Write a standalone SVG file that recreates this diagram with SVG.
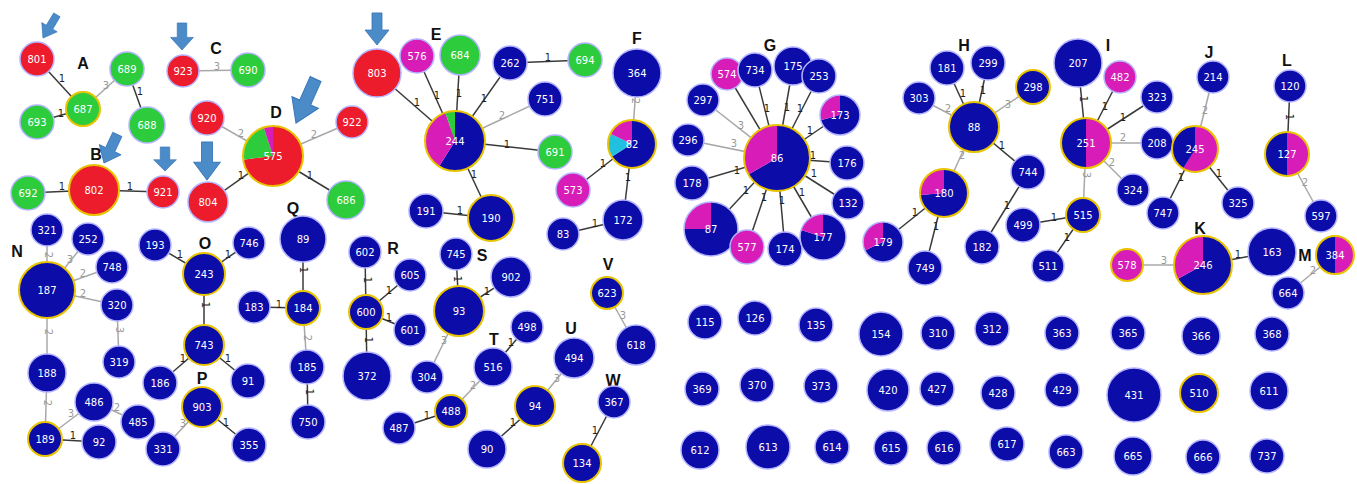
<svg xmlns="http://www.w3.org/2000/svg" xmlns:xlink="http://www.w3.org/1999/xlink" width="1357" height="484" viewBox="0 0 1357 484">
<style>
.b{fill:#0c0ca8}.r{fill:#ec1c2c}.g{fill:#2ccc3c}.m{fill:#d81cb8}.c{fill:#22c0e0}
.h{stroke:#b4b4ff;stroke-width:1.5}.y{stroke:#e8c300;stroke-width:2}
.o{fill:none}
.t{font-family:"DejaVu Sans",Verdana,sans-serif;font-size:10px;fill:#fff;text-anchor:middle;dominant-baseline:central}
.L{font-family:"Liberation Sans",Arial,sans-serif;font-weight:bold;font-size:16px;fill:#111;text-anchor:middle;dominant-baseline:central}
.e1{stroke:#3a3a3a;stroke-width:1.5}.e2{stroke:#a8a8a8;stroke-width:1.5}
.l1,.l2{font-family:"DejaVu Sans",Verdana,sans-serif;font-size:10px;text-anchor:middle;dominant-baseline:central}
.l1{fill:#222}.l2{fill:#999}
.ar{fill:#4a8bc8;stroke:#3a78b8;stroke-width:0.8}
</style>
<defs>
<path id="arr" d="M-5,-30 L5,-30 L5,-14 L12,-14 L0,0 L-12,-14 L-5,-14 Z"/>
</defs>
<rect width="1357" height="484" fill="#fff"/>
<g id="connectors">
<line class="e1" x1="37" y1="59" x2="83" y2="109"/>
<line class="e1" x1="37" y1="122" x2="83" y2="109"/>
<line class="e2" x1="83" y1="109" x2="127" y2="69"/>
<line class="e1" x1="127" y1="69" x2="147" y2="125"/>
<line class="e1" x1="28" y1="193" x2="94" y2="190"/>
<line class="e1" x1="94" y1="190" x2="163" y2="192"/>
<line class="e2" x1="183" y1="71" x2="248" y2="70"/>
<line class="e2" x1="207" y1="118" x2="273" y2="156"/>
<line class="e2" x1="273" y1="156" x2="352" y2="122"/>
<line class="e1" x1="273" y1="156" x2="346" y2="200"/>
<line class="e1" x1="208" y1="202" x2="273" y2="156"/>
<line class="e1" x1="377" y1="73" x2="455" y2="141"/>
<line class="e1" x1="417" y1="56" x2="455" y2="141"/>
<line class="e1" x1="460" y1="55" x2="455" y2="141"/>
<line class="e1" x1="510" y1="63" x2="455" y2="141"/>
<line class="e1" x1="510" y1="63" x2="585" y2="60"/>
<line class="e2" x1="545" y1="99" x2="455" y2="141"/>
<line class="e1" x1="455" y1="141" x2="555" y2="152"/>
<line class="e1" x1="455" y1="141" x2="491" y2="218"/>
<line class="e1" x1="426" y1="211" x2="491" y2="218"/>
<line class="e2" x1="632" y1="144" x2="637" y2="73"/>
<line class="e1" x1="573" y1="190" x2="632" y2="144"/>
<line class="e1" x1="623" y1="220" x2="632" y2="144"/>
<line class="e1" x1="563" y1="234" x2="623" y2="220"/>
<line class="e1" x1="727" y1="74" x2="777" y2="158"/>
<line class="e1" x1="755" y1="70" x2="777" y2="158"/>
<line class="e1" x1="793" y1="66" x2="777" y2="158"/>
<line class="e1" x1="819" y1="76" x2="777" y2="158"/>
<line class="e1" x1="840" y1="115" x2="777" y2="158"/>
<line class="e2" x1="703" y1="100" x2="777" y2="158"/>
<line class="e2" x1="688" y1="140" x2="777" y2="158"/>
<line class="e1" x1="847" y1="163" x2="777" y2="158"/>
<line class="e1" x1="692" y1="183" x2="777" y2="158"/>
<line class="e1" x1="848" y1="203" x2="777" y2="158"/>
<line class="e1" x1="711" y1="229" x2="777" y2="158"/>
<line class="e1" x1="747" y1="247" x2="777" y2="158"/>
<line class="e1" x1="785" y1="249" x2="777" y2="158"/>
<line class="e1" x1="823" y1="237" x2="777" y2="158"/>
<line class="e1" x1="947" y1="68" x2="974" y2="127"/>
<line class="e1" x1="988" y1="63" x2="974" y2="127"/>
<line class="e2" x1="919" y1="98" x2="974" y2="127"/>
<line class="e2" x1="1033" y1="87" x2="974" y2="127"/>
<line class="e1" x1="974" y1="127" x2="1028" y2="172"/>
<line class="e2" x1="974" y1="127" x2="944" y2="193"/>
<line class="e1" x1="944" y1="193" x2="883" y2="242"/>
<line class="e1" x1="925" y1="268" x2="944" y2="193"/>
<line class="e1" x1="1028" y1="172" x2="982" y2="247"/>
<line class="e1" x1="1078" y1="63" x2="1086" y2="143"/>
<line class="e1" x1="1120" y1="77" x2="1086" y2="143"/>
<line class="e1" x1="1157" y1="97" x2="1086" y2="143"/>
<line class="e2" x1="1086" y1="143" x2="1157" y2="143"/>
<line class="e2" x1="1086" y1="143" x2="1133" y2="190"/>
<line class="e2" x1="1086" y1="143" x2="1083" y2="215"/>
<line class="e1" x1="1023" y1="225" x2="1083" y2="215"/>
<line class="e1" x1="1083" y1="215" x2="1048" y2="266"/>
<line class="e2" x1="1213" y1="77" x2="1195" y2="149"/>
<line class="e1" x1="1195" y1="149" x2="1163" y2="213"/>
<line class="e1" x1="1195" y1="149" x2="1238" y2="203"/>
<line class="e2" x1="1127" y1="265" x2="1203" y2="265"/>
<line class="e1" x1="1203" y1="265" x2="1272" y2="252"/>
<line class="e1" x1="1290" y1="86" x2="1287" y2="154"/>
<line class="e2" x1="1287" y1="154" x2="1321" y2="216"/>
<line class="e2" x1="1335" y1="255" x2="1288" y2="293"/>
<line class="e2" x1="47" y1="230" x2="47" y2="290"/>
<line class="e2" x1="88" y1="239" x2="47" y2="290"/>
<line class="e2" x1="112" y1="267" x2="47" y2="290"/>
<line class="e2" x1="117" y1="305" x2="47" y2="290"/>
<line class="e2" x1="117" y1="305" x2="119" y2="362"/>
<line class="e2" x1="47" y1="373" x2="47" y2="290"/>
<line class="e2" x1="45" y1="439" x2="47" y2="373"/>
<line class="e2" x1="45" y1="439" x2="94" y2="402"/>
<line class="e2" x1="94" y1="402" x2="138" y2="422"/>
<line class="e1" x1="45" y1="439" x2="99" y2="442"/>
<line class="e1" x1="155" y1="245" x2="204" y2="274"/>
<line class="e1" x1="249" y1="243" x2="204" y2="274"/>
<line class="e1" x1="204" y1="274" x2="204" y2="345"/>
<line class="e1" x1="204" y1="345" x2="160" y2="383"/>
<line class="e1" x1="204" y1="345" x2="248" y2="381"/>
<line class="e2" x1="202" y1="407" x2="163" y2="449"/>
<line class="e1" x1="202" y1="407" x2="249" y2="445"/>
<line class="e1" x1="303" y1="239" x2="303" y2="308"/>
<line class="e1" x1="254" y1="307" x2="303" y2="308"/>
<line class="e2" x1="303" y1="308" x2="307" y2="367"/>
<line class="e1" x1="307" y1="367" x2="308" y2="422"/>
<line class="e1" x1="365" y1="252" x2="366" y2="312"/>
<line class="e1" x1="410" y1="275" x2="366" y2="312"/>
<line class="e1" x1="366" y1="312" x2="410" y2="330"/>
<line class="e1" x1="366" y1="312" x2="367" y2="376"/>
<line class="e1" x1="456" y1="254" x2="459" y2="311"/>
<line class="e1" x1="511" y1="277" x2="459" y2="311"/>
<line class="e2" x1="459" y1="311" x2="427" y2="377"/>
<line class="e1" x1="527" y1="327" x2="493" y2="367"/>
<line class="e2" x1="493" y1="367" x2="451" y2="411"/>
<line class="e1" x1="399" y1="428" x2="451" y2="411"/>
<line class="e2" x1="574" y1="358" x2="535" y2="406"/>
<line class="e1" x1="535" y1="406" x2="487" y2="449"/>
<line class="e2" x1="607" y1="293" x2="636" y2="345"/>
<line class="e1" x1="614" y1="402" x2="582" y2="463"/>
<text class="l1" x="62" y="78">1</text>
<text class="l1" x="61" y="113">1</text>
<text class="l2" x="106" y="85">3</text>
<text class="l1" x="140" y="91">1</text>
<text class="l1" x="62" y="186">1</text>
<text class="l1" x="130" y="186">1</text>
<text class="l2" x="217" y="66">3</text>
<text class="l2" x="241" y="133">2</text>
<text class="l2" x="314" y="134">2</text>
<text class="l1" x="310" y="175">1</text>
<text class="l1" x="241" y="175">1</text>
<text class="l1" x="417" y="102">1</text>
<text class="l1" x="437" y="95">1</text>
<text class="l1" x="459" y="93">1</text>
<text class="l1" x="484" y="98">1</text>
<text class="l1" x="548" y="57">1</text>
<text class="l2" x="502" y="115">2</text>
<text class="l1" x="507" y="144">1</text>
<text class="l1" x="474" y="174">1</text>
<text class="l1" x="460" y="210">1</text>
<text class="l2" x="635" y="101" transform="rotate(90 635 101)">2</text>
<text class="l1" x="603" y="163">1</text>
<text class="l1" x="628" y="177">1</text>
<text class="l1" x="595" y="223">1</text>
<text class="l1" x="756" y="138">1</text>
<text class="l1" x="767" y="108">1</text>
<text class="l1" x="787" y="107">1</text>
<text class="l1" x="800" y="108">1</text>
<text class="l1" x="810" y="130">1</text>
<text class="l2" x="741" y="125">3</text>
<text class="l2" x="734" y="143">3</text>
<text class="l1" x="813" y="155">1</text>
<text class="l1" x="737" y="170">1</text>
<text class="l1" x="814" y="173">1</text>
<text class="l1" x="746" y="190">1</text>
<text class="l1" x="764" y="197">1</text>
<text class="l1" x="782" y="200">1</text>
<text class="l1" x="802" y="192">1</text>
<text class="l1" x="963" y="93">1</text>
<text class="l1" x="983" y="90">1</text>
<text class="l2" x="948" y="108">2</text>
<text class="l2" x="1008" y="104">3</text>
<text class="l1" x="1002" y="145">1</text>
<text class="l2" x="962" y="155">2</text>
<text class="l1" x="915" y="212">1</text>
<text class="l1" x="936" y="226">1</text>
<text class="l1" x="1007" y="205">1</text>
<text class="l1" x="1083" y="99" transform="rotate(90 1083 99)">1</text>
<text class="l1" x="1105" y="106">1</text>
<text class="l1" x="1123" y="117">1</text>
<text class="l2" x="1123" y="137">2</text>
<text class="l2" x="1112" y="162">2</text>
<text class="l2" x="1086" y="175" transform="rotate(90 1086 175)">3</text>
<text class="l1" x="1054" y="217">1</text>
<text class="l1" x="1067" y="237">1</text>
<text class="l2" x="1205" y="110">2</text>
<text class="l1" x="1181" y="177">1</text>
<text class="l1" x="1219" y="173">1</text>
<text class="l2" x="1164" y="260">3</text>
<text class="l1" x="1238" y="254">1</text>
<text class="l1" x="1289" y="117" transform="rotate(90 1289 117)">1</text>
<text class="l2" x="1305" y="182">2</text>
<text class="l2" x="1313" y="270">2</text>
<text class="l2" x="48" y="255" transform="rotate(90 48 255)">2</text>
<text class="l2" x="70" y="259">3</text>
<text class="l2" x="83" y="273">2</text>
<text class="l2" x="83" y="293">2</text>
<text class="l2" x="119" y="330" transform="rotate(90 119 330)">3</text>
<text class="l2" x="48" y="332" transform="rotate(90 48 332)">2</text>
<text class="l2" x="47" y="403" transform="rotate(90 47 403)">2</text>
<text class="l2" x="71" y="413">3</text>
<text class="l2" x="117" y="407">2</text>
<text class="l1" x="73" y="435">1</text>
<text class="l1" x="180" y="254">1</text>
<text class="l1" x="228" y="254">1</text>
<text class="l1" x="205" y="305" transform="rotate(90 205 305)">1</text>
<text class="l1" x="183" y="358">1</text>
<text class="l1" x="228" y="358">1</text>
<text class="l2" x="183" y="423">3</text>
<text class="l1" x="226" y="422">1</text>
<text class="l1" x="303" y="270" transform="rotate(90 303 270)">1</text>
<text class="l1" x="279" y="304">1</text>
<text class="l2" x="307" y="338" transform="rotate(90 307 338)">2</text>
<text class="l1" x="309" y="392" transform="rotate(90 309 392)">1</text>
<text class="l1" x="367" y="280" transform="rotate(90 367 280)">1</text>
<text class="l1" x="389" y="290">1</text>
<text class="l1" x="389" y="317">1</text>
<text class="l1" x="368" y="340" transform="rotate(90 368 340)">1</text>
<text class="l1" x="457" y="279" transform="rotate(90 457 279)">1</text>
<text class="l1" x="487" y="291">1</text>
<text class="l2" x="444" y="340">3</text>
<text class="l1" x="511" y="342">1</text>
<text class="l2" x="473" y="385">2</text>
<text class="l1" x="427" y="415">1</text>
<text class="l2" x="557" y="378">3</text>
<text class="l1" x="513" y="422">1</text>
<text class="l2" x="623" y="315">3</text>
<text class="l1" x="595" y="430">1</text>
</g>
<g id="arrows">
<use xlink:href="#arr" href="#arr" class="ar" transform="translate(43,38) rotate(31) scale(0.75,0.9)"/>
<use xlink:href="#arr" href="#arr" class="ar" transform="translate(182,50) scale(0.95,0.9)"/>
<use xlink:href="#arr" href="#arr" class="ar" transform="translate(296,123) rotate(24) scale(1.2,1.6)"/>
<use xlink:href="#arr" href="#arr" class="ar" transform="translate(104,163) rotate(25) scale(1,1.05)"/>
<use xlink:href="#arr" href="#arr" class="ar" transform="translate(165,171) scale(0.95,0.8)"/>
<use xlink:href="#arr" href="#arr" class="ar" transform="translate(207,180) scale(1.1,1.27)"/>
<use xlink:href="#arr" href="#arr" class="ar" transform="translate(377,45) scale(1,1.07)"/>
</g>
<g id="labels">
<text class="L" x="83" y="63">A</text><text class="L" x="96" y="154">B</text><text class="L" x="216" y="48">C</text><text class="L" x="276" y="112">D</text>
<text class="L" x="436" y="34">E</text><text class="L" x="637" y="38">F</text><text class="L" x="770" y="45">G</text><text class="L" x="964" y="45">H</text>
<text class="L" x="1108" y="45">I</text><text class="L" x="1209" y="52">J</text><text class="L" x="1200" y="228">K</text><text class="L" x="1287" y="60">L</text>
<text class="L" x="1305" y="255">M</text><text class="L" x="17" y="251">N</text><text class="L" x="205" y="243">O</text><text class="L" x="202" y="378">P</text>
<text class="L" x="293" y="208">Q</text><text class="L" x="393" y="248">R</text><text class="L" x="482" y="255">S</text><text class="L" x="494" y="339">T</text>
<text class="L" x="571" y="328">U</text><text class="L" x="608" y="264">V</text><text class="L" x="613" y="380">W</text>
</g>
<g id="n801"><circle class="r h" cx="37" cy="59" r="17"/><text class="t" x="37" y="59">801</text></g>
<g id="n687"><circle class="g y" cx="83" cy="109" r="17"/><text class="t" x="83" y="109">687</text></g>
<g id="n693"><circle class="g h" cx="37" cy="122" r="17"/><text class="t" x="37" y="122">693</text></g>
<g id="n689"><circle class="g h" cx="127" cy="69" r="17"/><text class="t" x="127" y="69">689</text></g>
<g id="n688"><circle class="g h" cx="147" cy="125" r="18"/><text class="t" x="147" y="125">688</text></g>
<g id="n923"><circle class="r h" cx="183" cy="71" r="16"/><text class="t" x="183" y="71">923</text></g>
<g id="n690"><circle class="g h" cx="248" cy="70" r="17"/><text class="t" x="248" y="70">690</text></g>
<g id="n920"><circle class="r h" cx="207" cy="118" r="17"/><text class="t" x="207" y="118">920</text></g>
<g id="n575"><path class="r" d="M273,156 L273,126 A30,30 0 1 1 243.2,159.7 Z"/><path class="g" d="M273,156 L243.2,159.7 A30,30 0 0 1 263.7,127.5 Z"/><path class="m" d="M273,156 L263.7,127.5 A30,30 0 0 1 273,126 Z"/><circle class="o y" cx="273" cy="156" r="30"/><text class="t" x="273" y="156">575</text></g>
<g id="n922"><circle class="r h" cx="352" cy="122" r="16"/><text class="t" x="352" y="122">922</text></g>
<g id="n686"><circle class="g h" cx="346" cy="200" r="19"/><text class="t" x="346" y="200">686</text></g>
<g id="n802"><circle class="r y" cx="94" cy="190" r="25"/><text class="t" x="94" y="190">802</text></g>
<g id="n692"><circle class="g h" cx="28" cy="193" r="17"/><text class="t" x="28" y="193">692</text></g>
<g id="n921"><circle class="r h" cx="163" cy="192" r="16"/><text class="t" x="163" y="192">921</text></g>
<g id="n804"><circle class="r h" cx="208" cy="202" r="20"/><text class="t" x="208" y="202">804</text></g>
<g id="n321"><circle class="b h" cx="47" cy="230" r="16"/><text class="t" x="47" y="230">321</text></g>
<g id="n252"><circle class="b h" cx="88" cy="239" r="16"/><text class="t" x="88" y="239">252</text></g>
<g id="n187"><circle class="b y" cx="47" cy="290" r="28"/><text class="t" x="47" y="290">187</text></g>
<g id="n748"><circle class="b h" cx="112" cy="267" r="16"/><text class="t" x="112" y="267">748</text></g>
<g id="n320"><circle class="b h" cx="117" cy="305" r="16"/><text class="t" x="117" y="305">320</text></g>
<g id="n319"><circle class="b h" cx="119" cy="362" r="16"/><text class="t" x="119" y="362">319</text></g>
<g id="n188"><circle class="b h" cx="47" cy="373" r="19"/><text class="t" x="47" y="373">188</text></g>
<g id="n486"><circle class="b h" cx="94" cy="402" r="19"/><text class="t" x="94" y="402">486</text></g>
<g id="n485"><circle class="b h" cx="138" cy="422" r="17"/><text class="t" x="138" y="422">485</text></g>
<g id="n189"><circle class="b y" cx="45" cy="439" r="17"/><text class="t" x="45" y="439">189</text></g>
<g id="n92"><circle class="b h" cx="99" cy="442" r="17"/><text class="t" x="99" y="442">92</text></g>
<g id="n193"><circle class="b h" cx="155" cy="245" r="16"/><text class="t" x="155" y="245">193</text></g>
<g id="n243"><circle class="b y" cx="204" cy="274" r="21"/><text class="t" x="204" y="274">243</text></g>
<g id="n746"><circle class="b h" cx="249" cy="243" r="16"/><text class="t" x="249" y="243">746</text></g>
<g id="n743"><circle class="b y" cx="204" cy="345" r="20"/><text class="t" x="204" y="345">743</text></g>
<g id="n186"><circle class="b h" cx="160" cy="383" r="17"/><text class="t" x="160" y="383">186</text></g>
<g id="n91"><circle class="b h" cx="248" cy="381" r="17"/><text class="t" x="248" y="381">91</text></g>
<g id="n903"><circle class="b y" cx="202" cy="407" r="20"/><text class="t" x="202" y="407">903</text></g>
<g id="n331"><circle class="b h" cx="163" cy="449" r="17"/><text class="t" x="163" y="449">331</text></g>
<g id="n355"><circle class="b h" cx="249" cy="445" r="17"/><text class="t" x="249" y="445">355</text></g>
<g id="n89"><circle class="b h" cx="303" cy="239" r="23"/><text class="t" x="303" y="239">89</text></g>
<g id="n183"><circle class="b h" cx="254" cy="307" r="16"/><text class="t" x="254" y="307">183</text></g>
<g id="n184"><circle class="b y" cx="303" cy="308" r="17"/><text class="t" x="303" y="308">184</text></g>
<g id="n185"><circle class="b h" cx="307" cy="367" r="17"/><text class="t" x="307" y="367">185</text></g>
<g id="n750"><circle class="b h" cx="308" cy="422" r="17"/><text class="t" x="308" y="422">750</text></g>
<g id="n803"><circle class="r h" cx="377" cy="73" r="24"/><text class="t" x="377" y="73">803</text></g>
<g id="n576"><circle class="m h" cx="417" cy="56" r="17"/><text class="t" x="417" y="56">576</text></g>
<g id="n684"><circle class="g h" cx="460" cy="55" r="20"/><text class="t" x="460" y="55">684</text></g>
<g id="n262"><circle class="b h" cx="510" cy="63" r="17"/><text class="t" x="510" y="63">262</text></g>
<g id="n694"><circle class="g h" cx="585" cy="60" r="17"/><text class="t" x="585" y="60">694</text></g>
<g id="n751"><circle class="b h" cx="545" cy="99" r="17"/><text class="t" x="545" y="99">751</text></g>
<g id="n244"><path class="b" d="M455,141 L455,111 A30,30 0 1 1 439.1,166.4 Z"/><path class="m" d="M455,141 L439.1,166.4 A30,30 0 0 1 445.2,112.6 Z"/><path class="g" d="M455,141 L445.2,112.6 A30,30 0 0 1 455,111 Z"/><circle class="o y" cx="455" cy="141" r="30"/><text class="t" x="455" y="141">244</text></g>
<g id="n691"><circle class="g h" cx="555" cy="152" r="17"/><text class="t" x="555" y="152">691</text></g>
<g id="n191"><circle class="b h" cx="426" cy="211" r="17"/><text class="t" x="426" y="211">191</text></g>
<g id="n190"><circle class="b y" cx="491" cy="218" r="23"/><text class="t" x="491" y="218">190</text></g>
<g id="n364"><circle class="b h" cx="637" cy="73" r="24"/><text class="t" x="637" y="73">364</text></g>
<g id="n82"><path class="b" d="M632,144 L632,120 A24,24 0 1 1 611.65,156.72 Z"/><path class="c" d="M632,144 L611.65,156.72 A24,24 0 0 1 610.25,133.86 Z"/><path class="m" d="M632,144 L610.25,133.86 A24,24 0 0 1 632,120 Z"/><circle class="o y" cx="632" cy="144" r="24"/><text class="t" x="632" y="144">82</text></g>
<g id="n573"><circle class="m h" cx="573" cy="190" r="17"/><text class="t" x="573" y="190">573</text></g>
<g id="n172"><circle class="b h" cx="623" cy="220" r="20"/><text class="t" x="623" y="220">172</text></g>
<g id="n83"><circle class="b h" cx="563" cy="234" r="16"/><text class="t" x="563" y="234">83</text></g>
<g id="n602"><circle class="b h" cx="365" cy="252" r="16"/><text class="t" x="365" y="252">602</text></g>
<g id="n605"><circle class="b h" cx="410" cy="275" r="16"/><text class="t" x="410" y="275">605</text></g>
<g id="n600"><circle class="b y" cx="366" cy="312" r="17"/><text class="t" x="366" y="312">600</text></g>
<g id="n601"><circle class="b h" cx="410" cy="330" r="16"/><text class="t" x="410" y="330">601</text></g>
<g id="n372"><circle class="b h" cx="367" cy="376" r="24"/><text class="t" x="367" y="376">372</text></g>
<g id="n745"><circle class="b h" cx="456" cy="254" r="16"/><text class="t" x="456" y="254">745</text></g>
<g id="n902"><circle class="b h" cx="511" cy="277" r="20"/><text class="t" x="511" y="277">902</text></g>
<g id="n93"><circle class="b y" cx="459" cy="311" r="25"/><text class="t" x="459" y="311">93</text></g>
<g id="n304"><circle class="b h" cx="427" cy="377" r="16"/><text class="t" x="427" y="377">304</text></g>
<g id="n498"><circle class="b h" cx="527" cy="327" r="16"/><text class="t" x="527" y="327">498</text></g>
<g id="n516"><circle class="b h" cx="493" cy="367" r="19"/><text class="t" x="493" y="367">516</text></g>
<g id="n488"><circle class="b y" cx="451" cy="411" r="16"/><text class="t" x="451" y="411">488</text></g>
<g id="n487"><circle class="b h" cx="399" cy="428" r="16"/><text class="t" x="399" y="428">487</text></g>
<g id="n494"><circle class="b h" cx="574" cy="358" r="20"/><text class="t" x="574" y="358">494</text></g>
<g id="n94"><circle class="b y" cx="535" cy="406" r="20"/><text class="t" x="535" y="406">94</text></g>
<g id="n90"><circle class="b h" cx="487" cy="449" r="19"/><text class="t" x="487" y="449">90</text></g>
<g id="n623"><circle class="b y" cx="607" cy="293" r="16"/><text class="t" x="607" y="293">623</text></g>
<g id="n618"><circle class="b h" cx="636" cy="345" r="20"/><text class="t" x="636" y="345">618</text></g>
<g id="n367"><circle class="b h" cx="614" cy="402" r="16"/><text class="t" x="614" y="402">367</text></g>
<g id="n134"><circle class="b y" cx="582" cy="463" r="19"/><text class="t" x="582" y="463">134</text></g>
<g id="n574"><circle class="m h" cx="727" cy="74" r="16"/><text class="t" x="727" y="74">574</text></g>
<g id="n734"><circle class="b h" cx="755" cy="70" r="17"/><text class="t" x="755" y="70">734</text></g>
<g id="n175"><circle class="b h" cx="793" cy="66" r="19"/><text class="t" x="793" y="66">175</text></g>
<g id="n253"><circle class="b h" cx="819" cy="76" r="17"/><text class="t" x="819" y="76">253</text></g>
<g id="n297"><circle class="b h" cx="703" cy="100" r="16"/><text class="t" x="703" y="100">297</text></g>
<g id="n173"><path class="b" d="M840,115 L840,95 A20,20 0 1 1 820.68,120.18 Z"/><path class="m" d="M840,115 L820.68,120.18 A20,20 0 0 1 840,95 Z"/><circle class="o h" cx="840" cy="115" r="20"/><text class="t" x="840" y="115">173</text></g>
<g id="n296"><circle class="b h" cx="688" cy="140" r="16"/><text class="t" x="688" y="140">296</text></g>
<g id="n86"><path class="b" d="M777,158 L777,125 A33,33 0 1 1 748.42,174.5 Z"/><path class="m" d="M777,158 L748.42,174.5 A33,33 0 0 1 777,125 Z"/><circle class="o y" cx="777" cy="158" r="33"/><text class="t" x="777" y="158">86</text></g>
<g id="n176"><circle class="b h" cx="847" cy="163" r="17"/><text class="t" x="847" y="163">176</text></g>
<g id="n178"><circle class="b h" cx="692" cy="183" r="17"/><text class="t" x="692" y="183">178</text></g>
<g id="n132"><circle class="b h" cx="848" cy="203" r="16"/><text class="t" x="848" y="203">132</text></g>
<g id="n87"><path class="b" d="M711,229 L711,202 A27,27 0 1 1 684,229 Z"/><path class="m" d="M711,229 L684,229 A27,27 0 0 1 711,202 Z"/><circle class="o h" cx="711" cy="229" r="27"/><text class="t" x="711" y="229">87</text></g>
<g id="n577"><circle class="m h" cx="747" cy="247" r="17"/><text class="t" x="747" y="247">577</text></g>
<g id="n174"><circle class="b h" cx="785" cy="249" r="17"/><text class="t" x="785" y="249">174</text></g>
<g id="n177"><path class="b" d="M823,237 L823,214 A23,23 0 1 1 801.13,229.89 Z"/><path class="m" d="M823,237 L801.13,229.89 A23,23 0 0 1 823,214 Z"/><circle class="o h" cx="823" cy="237" r="23"/><text class="t" x="823" y="237">177</text></g>
<g id="n181"><circle class="b h" cx="947" cy="68" r="17"/><text class="t" x="947" y="68">181</text></g>
<g id="n299"><circle class="b h" cx="988" cy="63" r="17"/><text class="t" x="988" y="63">299</text></g>
<g id="n303"><circle class="b h" cx="919" cy="98" r="16"/><text class="t" x="919" y="98">303</text></g>
<g id="n88"><circle class="b y" cx="974" cy="127" r="25"/><text class="t" x="974" y="127">88</text></g>
<g id="n298"><circle class="b y" cx="1033" cy="87" r="17"/><text class="t" x="1033" y="87">298</text></g>
<g id="n744"><circle class="b h" cx="1028" cy="172" r="17"/><text class="t" x="1028" y="172">744</text></g>
<g id="n180"><path class="b" d="M944,193 L944,169 A24,24 0 1 1 920.09,195.09 Z"/><path class="m" d="M944,193 L920.09,195.09 A24,24 0 0 1 944,169 Z"/><circle class="o y" cx="944" cy="193" r="24"/><text class="t" x="944" y="193">180</text></g>
<g id="n179"><path class="b" d="M883,242 L883,222 A20,20 0 1 1 864.87,250.45 Z"/><path class="m" d="M883,242 L864.87,250.45 A20,20 0 0 1 883,222 Z"/><circle class="o h" cx="883" cy="242" r="20"/><text class="t" x="883" y="242">179</text></g>
<g id="n749"><circle class="b h" cx="925" cy="268" r="17"/><text class="t" x="925" y="268">749</text></g>
<g id="n182"><circle class="b h" cx="982" cy="247" r="17"/><text class="t" x="982" y="247">182</text></g>
<g id="n499"><circle class="b h" cx="1023" cy="225" r="17"/><text class="t" x="1023" y="225">499</text></g>
<g id="n207"><circle class="b h" cx="1078" cy="63" r="24"/><text class="t" x="1078" y="63">207</text></g>
<g id="n482"><circle class="m h" cx="1120" cy="77" r="16"/><text class="t" x="1120" y="77">482</text></g>
<g id="n323"><circle class="b h" cx="1157" cy="97" r="16"/><text class="t" x="1157" y="97">323</text></g>
<g id="n251"><path class="m" d="M1086,118 A25,25 0 0 1 1086,168 Z"/><path class="b" d="M1086,168 A25,25 0 0 1 1086,118 Z"/><circle class="o y" cx="1086" cy="143" r="25"/><text class="t" x="1086" y="143">251</text></g>
<g id="n208"><circle class="b h" cx="1157" cy="143" r="16"/><text class="t" x="1157" y="143">208</text></g>
<g id="n324"><circle class="b h" cx="1133" cy="190" r="16"/><text class="t" x="1133" y="190">324</text></g>
<g id="n515"><circle class="b y" cx="1083" cy="215" r="17"/><text class="t" x="1083" y="215">515</text></g>
<g id="n511"><circle class="b h" cx="1048" cy="266" r="16"/><text class="t" x="1048" y="266">511</text></g>
<g id="n214"><circle class="b h" cx="1213" cy="77" r="16"/><text class="t" x="1213" y="77">214</text></g>
<g id="n245"><path class="m" d="M1195,149 L1195,126 A23,23 0 1 1 1183.15,168.71 Z"/><path class="b" d="M1195,149 L1183.15,168.71 A23,23 0 0 1 1195,126 Z"/><circle class="o y" cx="1195" cy="149" r="23"/><text class="t" x="1195" y="149">245</text></g>
<g id="n747"><circle class="b h" cx="1163" cy="213" r="16"/><text class="t" x="1163" y="213">747</text></g>
<g id="n325"><circle class="b h" cx="1238" cy="203" r="16"/><text class="t" x="1238" y="203">325</text></g>
<g id="n120"><circle class="b h" cx="1290" cy="86" r="16"/><text class="t" x="1290" y="86">120</text></g>
<g id="n127"><path class="m" d="M1287,132 A22,22 0 0 1 1287,176 Z"/><path class="b" d="M1287,176 A22,22 0 0 1 1287,132 Z"/><circle class="o y" cx="1287" cy="154" r="22"/><text class="t" x="1287" y="154">127</text></g>
<g id="n597"><circle class="b h" cx="1321" cy="216" r="16"/><text class="t" x="1321" y="216">597</text></g>
<g id="n578"><circle class="m y" cx="1127" cy="265" r="16"/><text class="t" x="1127" y="265">578</text></g>
<g id="n246"><path class="b" d="M1203,265 L1203,236 A29,29 0 1 1 1177.64,279.06 Z"/><path class="m" d="M1203,265 L1177.64,279.06 A29,29 0 0 1 1203,236 Z"/><circle class="o y" cx="1203" cy="265" r="29"/><text class="t" x="1203" y="265">246</text></g>
<g id="n163"><circle class="b h" cx="1272" cy="252" r="24"/><text class="t" x="1272" y="252">163</text></g>
<g id="n384"><path class="m" d="M1335,236 A19,19 0 0 1 1335,274 Z"/><path class="b" d="M1335,274 A19,19 0 0 1 1335,236 Z"/><circle class="o y" cx="1335" cy="255" r="19"/><text class="t" x="1335" y="255">384</text></g>
<g id="n664"><circle class="b h" cx="1288" cy="293" r="16"/><text class="t" x="1288" y="293">664</text></g>
<g id="n115"><circle class="b h" cx="705" cy="322" r="17"/><text class="t" x="705" y="322">115</text></g>
<g id="n126"><circle class="b h" cx="755" cy="318" r="17"/><text class="t" x="755" y="318">126</text></g>
<g id="n135"><circle class="b h" cx="816" cy="325" r="17"/><text class="t" x="816" y="325">135</text></g>
<g id="n154"><circle class="b h" cx="881" cy="334" r="22"/><text class="t" x="881" y="334">154</text></g>
<g id="n310"><circle class="b h" cx="938" cy="333" r="17"/><text class="t" x="938" y="333">310</text></g>
<g id="n312"><circle class="b h" cx="992" cy="329" r="17"/><text class="t" x="992" y="329">312</text></g>
<g id="n363"><circle class="b h" cx="1062" cy="333" r="17"/><text class="t" x="1062" y="333">363</text></g>
<g id="n365"><circle class="b h" cx="1128" cy="333" r="17"/><text class="t" x="1128" y="333">365</text></g>
<g id="n366"><circle class="b h" cx="1201" cy="336" r="19"/><text class="t" x="1201" y="336">366</text></g>
<g id="n368"><circle class="b h" cx="1272" cy="334" r="17"/><text class="t" x="1272" y="334">368</text></g>
<g id="n369"><circle class="b h" cx="702" cy="389" r="17"/><text class="t" x="702" y="389">369</text></g>
<g id="n370"><circle class="b h" cx="757" cy="385" r="17"/><text class="t" x="757" y="385">370</text></g>
<g id="n373"><circle class="b h" cx="821" cy="386" r="17"/><text class="t" x="821" y="386">373</text></g>
<g id="n420"><circle class="b h" cx="888" cy="390" r="21"/><text class="t" x="888" y="390">420</text></g>
<g id="n427"><circle class="b h" cx="937" cy="389" r="17"/><text class="t" x="937" y="389">427</text></g>
<g id="n428"><circle class="b h" cx="998" cy="393" r="17"/><text class="t" x="998" y="393">428</text></g>
<g id="n429"><circle class="b h" cx="1062" cy="390" r="17"/><text class="t" x="1062" y="390">429</text></g>
<g id="n431"><circle class="b h" cx="1134" cy="395" r="27"/><text class="t" x="1134" y="395">431</text></g>
<g id="n510"><circle class="b y" cx="1199" cy="393" r="19"/><text class="t" x="1199" y="393">510</text></g>
<g id="n611"><circle class="b h" cx="1269" cy="391" r="19"/><text class="t" x="1269" y="391">611</text></g>
<g id="n612"><circle class="b h" cx="700" cy="450" r="19"/><text class="t" x="700" y="450">612</text></g>
<g id="n613"><circle class="b h" cx="768" cy="447" r="22"/><text class="t" x="768" y="447">613</text></g>
<g id="n614"><circle class="b h" cx="832" cy="447" r="17"/><text class="t" x="832" y="447">614</text></g>
<g id="n615"><circle class="b h" cx="891" cy="448" r="17"/><text class="t" x="891" y="448">615</text></g>
<g id="n616"><circle class="b h" cx="944" cy="448" r="17"/><text class="t" x="944" y="448">616</text></g>
<g id="n617"><circle class="b h" cx="1007" cy="444" r="17"/><text class="t" x="1007" y="444">617</text></g>
<g id="n663"><circle class="b h" cx="1066" cy="452" r="17"/><text class="t" x="1066" y="452">663</text></g>
<g id="n665"><circle class="b h" cx="1133" cy="456" r="19"/><text class="t" x="1133" y="456">665</text></g>
<g id="n666"><circle class="b h" cx="1203" cy="457" r="17"/><text class="t" x="1203" y="457">666</text></g>
<g id="n737"><circle class="b h" cx="1267" cy="456" r="17"/><text class="t" x="1267" y="456">737</text></g>
</svg>
